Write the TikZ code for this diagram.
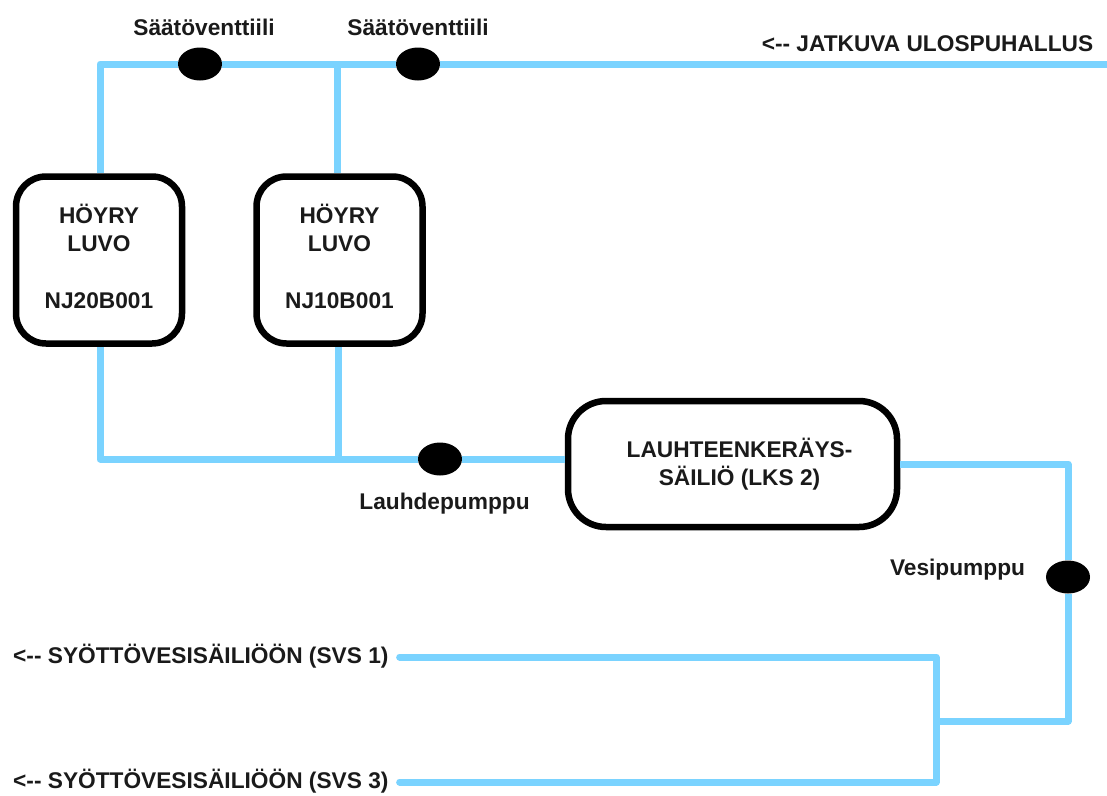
\documentclass[tikz,border=0pt]{standalone}
\usepackage{fontspec}
\setmainfont{Liberation Sans}
\usepackage{xcolor}
\usetikzlibrary{positioning,shapes.geometric}
\definecolor{pipe}{HTML}{7AD3FF}
\definecolor{ink}{HTML}{1A1A1A}
\begin{document}
\begin{tikzpicture}[x=1pt,y=-1pt, every node/.style={font=\fontsize{22.7}{28}\selectfont\bfseries,text=ink},
 unit/.style={draw=black,line width=6.5pt,rounded corners=30pt,fill=white,align=center,minimum width=166pt,minimum height=167pt,inner sep=0pt},
 tank/.style={draw=black,line width=6.5pt,rounded corners=38pt,fill=white,minimum width=329pt,minimum height=126pt,inner sep=0pt},
 valve/.style={ellipse,fill=black,minimum width=44pt,minimum height=33pt,inner sep=0pt},
 line/.style={draw=pipe,line width=7pt,line join=round},
 feedline/.style={line,line cap=round},
 tag/.style={inner sep=0pt,align=center}]
\useasboundingbox (0,0) rectangle (1107,795);
% junctions and ends
\coordinate (topleft) at (100,64);
\coordinate (topjoin) at (337,64);
\coordinate (topend) at (1110,64);
\coordinate (lowleft) at (100,459);
\coordinate (lowjoin) at (338,459);
\coordinate (feedjoin) at (936,721);
\coordinate (pumpcorner) at (1068,721);
\coordinate (tankcorner) at (1068,464);
% boxes and valves, the pipes run up to them
\node[valve] (valveA) at (200,64) {};
\node[valve] (valveB) at (418,64) {};
\node[valve] (pumpA) at (440,459) {};
\node[valve] (pumpB) at (1068,577) {};
\node[unit] (luvoA) at (99,260) {HÖYRY\\LUVO\\[29pt]NJ20B001\rule[-8pt]{0pt}{0pt}};
\node[unit] (luvoB) at (339.5,260) {HÖYRY\\LUVO\\[29pt]NJ10B001\rule[-8pt]{0pt}{0pt}};
\node[tank] (tank) at (732.5,464) {};
\node[tag] (tankname) at (739.5,464) {LAUHTEENKERÄYS-\\SÄILIÖ (LKS 2)};
\node[tag,anchor=west] (feedA) at (13,656) {<-{}- SYÖTTÖVESISÄILIÖÖN (SVS 1)};
\node[tag,anchor=west] (feedB) at (13,781) {<-{}- SYÖTTÖVESISÄILIÖÖN (SVS 3)};
\draw[line] (luvoA.north -| topleft) -- (topleft) -- (valveA);
\draw[line] (valveA) -- (topjoin) -- (valveB);
\draw[line] (valveB) -- (topend);
\draw[line] (topjoin) -- (topjoin |- luvoB.north);
\draw[line] (luvoA.south -| lowleft) -- (lowleft) -- (lowjoin) -- (pumpA);
\draw[line] (lowjoin |- luvoB.south) -- (lowjoin);
\draw[line] (pumpA) -- (tank.west |- pumpA);
\draw[line] (tank.east |- tankcorner) -- (tankcorner) -- (pumpB);
\draw[line] (pumpB) -- (pumpcorner) -- (feedjoin);
\draw[feedline] (feedA.east) ++(11,1) coordinate (feedAend) -- (feedAend -| feedjoin) -- (feedjoin);
\draw[feedline] (feedB.east) ++(11,1) coordinate (feedBend) -- (feedBend -| feedjoin) -- (feedjoin);
\node[tag] (nameA) at (204,27) {Säätöventtiili};
\node[tag] (nameB) at (418,27) {Säätöventtiili};
\node[tag] (outlet) at (927.5,44) {<-{}- JATKUVA ULOSPUHALLUS};
\node[tag] (nameC) at (444.5,504) {Lauhdepumppu};
\node[tag] (nameD) at (957.5,570) {Vesipumppu};
\end{tikzpicture}
\end{document}
